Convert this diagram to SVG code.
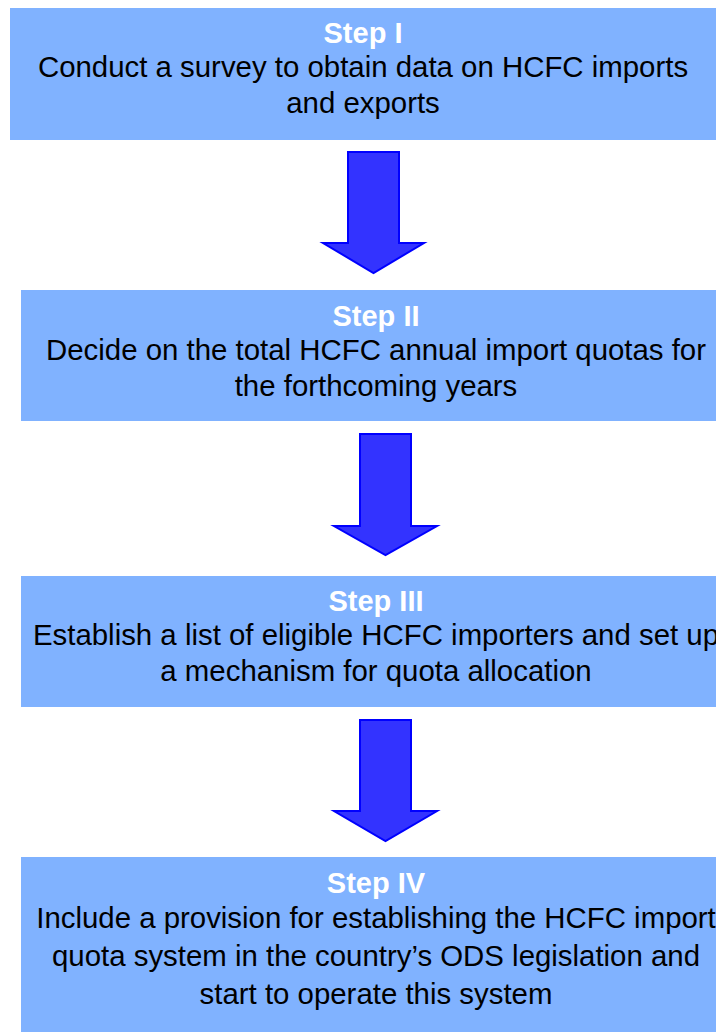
<svg xmlns="http://www.w3.org/2000/svg" width="716" height="1032" viewBox="0 0 716 1032">
<style>
.box{fill:#80B2FF;}
.arrow{fill:#3333FF;stroke:#0000FF;stroke-width:2;stroke-linejoin:miter;}
.title{font-family:"Liberation Sans",Arial,sans-serif;font-size:29px;font-weight:bold;fill:#FFFFFF;text-anchor:middle;}
.body{font-family:"Liberation Sans",Arial,sans-serif;font-size:29.4px;fill:#000000;text-anchor:middle;}
</style>
<rect width="716" height="1032" fill="#FFFFFF"/>
<g id="connectors">
<polygon class="arrow" points="348,152 399,152 399,243 424,243 373.5,273 323,243 348,243"/>
<polygon class="arrow" points="360,434 411,434 411,526 437,526 385.5,555 334,526 360,526"/>
<polygon class="arrow" points="360,720 411,720 411,811 437,811 385.5,841 334,811 360,811"/>
</g>
<g id="step1">
<rect class="box" x="10" y="8" width="706" height="132"/>
<text class="title" x="363" y="43">Step I</text>
<text class="body" x="363" y="77">Conduct a survey to obtain data on HCFC imports</text>
<text class="body" x="363" y="113">and exports</text>
</g>
<g id="step2">
<rect class="box" x="21" y="290" width="695" height="131"/>
<text class="title" x="376" y="326">Step II</text>
<text class="body" x="376" y="360">Decide on the total HCFC annual import quotas for</text>
<text class="body" x="376" y="396">the forthcoming years</text>
</g>
<g id="step3">
<rect class="box" x="21" y="576" width="695" height="131"/>
<text class="title" x="376" y="611">Step III</text>
<text class="body" x="376" y="645">Establish a list of eligible HCFC importers and set up</text>
<text class="body" x="376" y="681">a mechanism for quota allocation</text>
</g>
<g id="step4">
<rect class="box" x="21" y="857" width="695" height="175"/>
<text class="title" x="376" y="893">Step IV</text>
<text class="body" x="376" y="928">Include a provision for establishing the HCFC import</text>
<text class="body" x="376" y="966">quota system in the country’s ODS legislation and</text>
<text class="body" x="376" y="1004">start to operate this system</text>
</g>
</svg>
